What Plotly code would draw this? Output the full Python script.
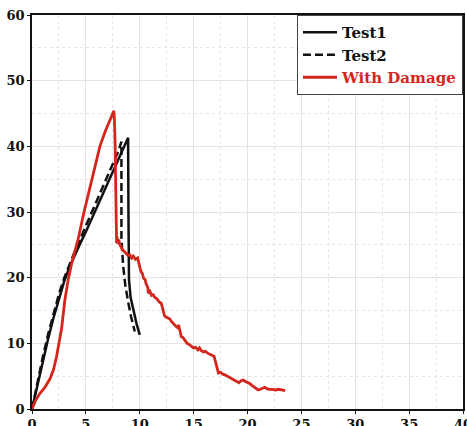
import plotly.graph_objects as go

# Test1 (solid black)
test1_x = [0, 0.5, 1.0, 1.5, 2.0, 2.5, 3.0, 3.5, 4.0, 4.5, 5.0, 5.5, 6.0, 6.5, 7.0, 7.5, 8.0, 8.5, 8.92,
           8.95, 8.97, 9.0, 9.15, 9.38, 9.7, 10.0]
test1_y = [0, 3.7, 7.3, 10.7, 13.9, 16.9, 19.5, 21.7, 23.6, 25.3, 27.0, 28.8, 30.6, 32.5, 34.3, 36.2, 38.0, 39.8, 41.3,
           30.0, 24.0, 19.7, 17.0, 15.1, 13.0, 11.3]

# Test2 (dashed black)
test2_x = [0, 0.5, 1.0, 1.5, 2.0, 2.5, 3.0, 3.5, 4.0, 4.5, 5.0, 5.5, 6.0, 6.5, 7.0, 7.5, 8.0, 8.3,
           8.3, 8.45, 8.65, 8.9, 9.2, 9.54]
test2_y = [0, 4.1, 7.9, 11.4, 14.6, 17.5, 20.0, 22.2, 24.1, 26.0, 27.9, 29.9, 31.8, 33.7, 35.5, 37.3, 39.2, 40.7,
           26.0, 22.0, 19.0, 16.5, 14.0, 11.8]

# With Damage (red)
dmg_x = [0, 0.3, 0.74, 1.2, 1.67, 2.0, 2.28, 2.5, 2.75, 3.05, 3.36, 3.7, 4.07, 4.3, 4.8, 5.37, 5.8, 6.3, 6.8, 7.2,
         7.45, 7.6, 7.65, 7.7, 7.72, 7.75, 7.78, 7.8, 7.82, 7.85, 7.9, 7.95, 8.05, 8.15, 8.3, 8.4, 8.55, 8.7, 8.9,
         9.07, 9.25, 9.4, 9.6, 9.8, 9.9, 10.0, 10.1, 10.25, 10.35, 10.5, 10.6, 10.75, 10.8, 10.95, 11.1, 11.25,
         11.4, 11.6, 11.8, 12.0, 12.1, 12.2, 12.3, 12.45, 12.6, 12.8, 12.9, 13.0, 13.2, 13.35, 13.5, 13.6, 13.75,
         13.86, 14.0, 14.2, 14.4, 14.6, 14.8, 15.0, 15.2, 15.4, 15.55, 15.7, 15.9, 16.1, 16.3, 16.5, 16.7, 16.9,
         17.0, 17.1, 17.2, 17.3, 17.5, 17.7, 17.9, 18.1, 18.3, 18.5, 18.7, 18.95, 19.2, 19.4, 19.6, 19.8, 20.0,
         20.2, 20.4, 20.6, 20.8, 21.0, 21.2, 21.4, 21.6, 21.8, 22.0, 22.3, 22.6, 22.9, 23.2, 23.5]
dmg_y = [0, 1.2, 2.4, 3.3, 4.6, 6.0, 8.0, 10.0, 12.3, 16.6, 19.7, 22.3, 24.4, 26.0, 29.8, 33.6, 36.8, 40.0, 42.3, 43.9,
         44.8, 45.4, 44.0, 42.0, 40.0, 36.0, 32.0, 28.0, 26.0, 25.3, 26.2, 25.2, 25.8, 25.0, 24.6, 24.2, 24.0, 23.7, 23.4,
         23.5, 23.0, 23.3, 22.8, 23.0, 22.2, 21.6, 21.0, 20.6, 19.9, 19.7, 19.0, 18.5, 17.6, 17.9, 17.3, 17.4,
         17.0, 16.8, 16.3, 16.1, 15.3, 14.8, 14.2, 14.0, 13.9, 13.7, 13.4, 13.2, 12.9, 12.6, 12.4, 12.8, 11.8,
         11.0, 10.9, 10.4, 10.0, 9.8, 9.5, 9.3, 9.4, 9.0, 9.3, 8.9, 8.7, 8.8, 8.5, 8.4, 8.2, 8.0,
         7.4, 6.6, 5.8, 5.5, 5.6, 5.3, 5.2, 5.0, 4.8, 4.7, 4.4, 4.2, 4.0, 4.3, 4.4, 4.2, 4.1,
         3.9, 3.6, 3.4, 3.2, 2.9, 3.0, 3.2, 3.3, 3.1, 3.0, 3.0, 2.9, 3.0, 2.9, 2.8]

x_ticks = [0, 5, 10, 15, 20, 25, 30, 35, 40]
y_ticks = [0, 10, 20, 30, 40, 50, 60]

RED = "rgb(212,38,28)"
FONT = "DejaVu Serif"

fig = go.Figure()
fig.add_trace(go.Scatter(x=test1_x, y=test1_y, mode="lines", name="<b>Test1</b>",
                         line=dict(color="#111111", width=2.5)))
fig.add_trace(go.Scatter(x=test2_x, y=test2_y, mode="lines", name="<b>Test2</b>",
                         line=dict(color="#111111", width=2.5, dash="8px,4px")))
fig.add_trace(go.Scatter(x=dmg_x, y=dmg_y, mode="lines",
                         name="<b><span style='color:" + RED + "'>With Damage</span></b>",
                         line=dict(color=RED, width=2.8)))

axis_common = dict(
    showline=True, linecolor="#111111", linewidth=1.5, mirror=True,
    ticks="outside", ticklen=3, tickcolor="#111111", tickwidth=1,
    showgrid=True, gridcolor="#e3e3e3", gridwidth=1, zeroline=False,
    tickfont=dict(family=FONT, size=13, color="#111111", weight="bold"),
    automargin=False, ticklabeloverflow="allow",
)

fig.update_xaxes(range=[0, 40], tickvals=x_ticks,
                 minor=dict(dtick=2.5, showgrid=True, gridcolor="#e6e6e6", griddash="dot", ticks=""),
                 **axis_common)
fig.update_yaxes(range=[0, 60], tickvals=y_ticks,
                 minor=dict(dtick=5, showgrid=True, gridcolor="#e6e6e6", griddash="dot", ticks=""),
                 **axis_common)

fig.update_layout(
    width=467, height=426,
    margin=dict(l=32, r=4, t=15, b=17),
    plot_bgcolor="white", paper_bgcolor="white",
    showlegend=True,
    legend=dict(x=1, y=1, xanchor="right", yanchor="top",
                bgcolor="white", bordercolor="#444444", borderwidth=1,
                font=dict(family=FONT, size=15, color="#111111"),
                itemwidth=34, tracegroupgap=0),
)

fig.write_html("out.html", config={"displayModeBar": False},
               post_script="document.body.style.margin='0';document.body.style.overflow='hidden';")
